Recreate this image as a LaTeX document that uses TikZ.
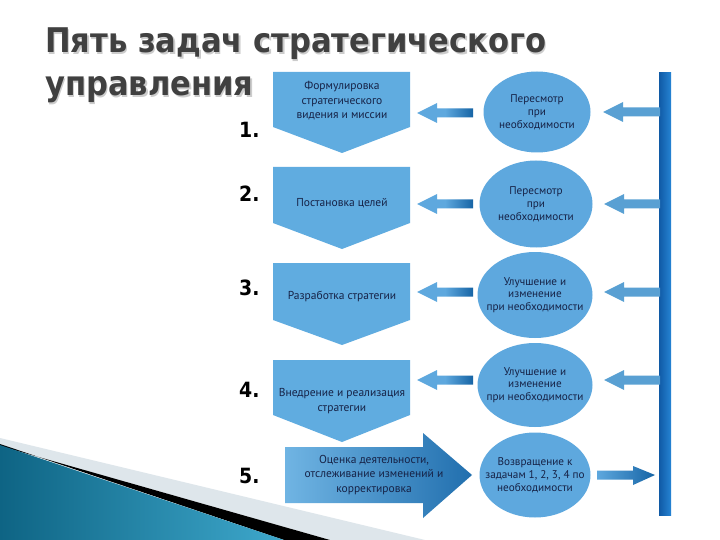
\documentclass[tikz,border=0pt]{standalone}
\usepackage{fontspec}
\setmainfont{PT Sans}
\newfontfamily\titlefont{DejaVu Sans Condensed}
\usetikzlibrary{shapes.geometric}
\definecolor{boxblue}{RGB}{96,172,224}
\definecolor{circblue}{RGB}{94,168,222}
\definecolor{darkarrow}{RGB}{22,100,165}
\definecolor{txt}{RGB}{22,34,70}
\definecolor{bardark}{RGB}{16,90,165}
\definecolor{barlight}{RGB}{38,132,212}
\definecolor{titlegray}{RGB}{64,64,64}
\definecolor{tealdark}{RGB}{14,100,132}
\definecolor{teallight}{RGB}{62,168,204}
\definecolor{stripgray}{RGB}{222,230,235}
\tikzset{
  boxtext/.style={font=\fontsize{11.5}{14.5}\selectfont, text=txt, align=center, inner sep=0pt},
  circtext/.style={inner sep=0pt, font=\fontsize{11.2}{12.8}\selectfont, text=txt, align=center},
  numtext/.style={font=\titlefont\fontsize{21}{21}\selectfont\bfseries, text=black, anchor=base west, inner sep=0pt},
  titletext/.style={font=\titlefont\fontsize{34}{34}\selectfont\bfseries, anchor=base west, inner sep=0pt}
}
\newcommand\leftblk[3]{% tip x, y, shaft end x
  \shade[left color=circblue, right color=darkarrow, middle color=circblue]
    (#1,#2) -- ++(20,-10) -- ++(0,5.5) -- (#3,#2-4.5) -- (#3,#2+4.5) -- (#1+20,#2+4.5) -- ++(0,5.5) -- cycle;}
\newcommand\barblk[3]{% tip x, y, shaft end x
  \fill[circblue!95!black]
    (#1,#2) -- ++(20,-10) -- ++(0,5.5) -- (#3,#2-4.5) -- (#3,#2+4.5) -- (#1+20,#2+4.5) -- ++(0,5.5) -- cycle;}
\begin{document}
\begin{tikzpicture}[x=1pt,y=-1pt]
\useasboundingbox (0,0) rectangle (720,540);
\fill[white] (0,0) rectangle (720,540);
% bottom-left decoration
\fill[stripgray] (0,438) -- (425,540) -- (330,540) -- (0,446) -- cycle;
\fill[black] (0,446) -- (330,540) -- (284,540) -- (0,444) -- cycle;
\shade[left color=tealdark, right color=teallight] (0,445) -- (284,540) -- (0,540) -- cycle;
% title
\node[titletext, text=black!20] at (46.5,54.5) {Пять задач стратегического};
\node[titletext, text=black!20] at (46.5,97.5) {управления};
\node[titletext, text=titlegray] (t1) at (45,53) {Пять задач стратегического};
\node[titletext, text=titlegray] (t2) at (45,96) {управления};
% numbers
\node[numtext] (n1) at (239,138) {1.};
\node[numtext] (n2) at (239,202) {2.};
\node[numtext] (n3) at (239,295) {3.};
\node[numtext] (n4) at (239,397) {4.};
\node[numtext] (n5) at (239,483) {5.};
% down pentagons
\fill[boxblue] (273,72) -- (410,72) -- (410,127) -- (342,153) -- (273,127) -- cycle;
\fill[boxblue] (273,167) -- (410,167) -- (410,223) -- (342,249) -- (273,223) -- cycle;
\fill[boxblue] (273,263) -- (410,263) -- (410,320) -- (342,345) -- (273,320) -- cycle;
\fill[boxblue] (273,360) -- (410,360) -- (410,415) -- (342,442) -- (273,415) -- cycle;
\shade[left color=boxblue!90!white, right color=darkarrow!85!boxblue]
  (285,447) -- (423,447) -- (423,433) -- (472,475) -- (423,518) -- (423,503) -- (285,503) -- cycle;
\node[boxtext] (b1) at (342,101) {Формулировка\\стратегического\\видения и миссии};
\node[boxtext] (b2) at (342,203) {Постановка целей};
\node[boxtext] (b3) at (342,296) {Разработка стратегии};
\node[boxtext] (b4) at (342,401) {Внедрение и реализация\\стратегии};
\node[boxtext] (b5) at (374,475) {Оценка деятельности,\\отслеживание изменений и\\корректировка};
% circles
\fill[circblue] (537,112) ellipse [x radius=53.5, y radius=40.5];
\fill[circblue] (536,204) ellipse [x radius=56.5, y radius=43.5];
\fill[circblue] (535,295) ellipse [x radius=57.5, y radius=43];
\fill[circblue] (535,385) ellipse [x radius=57.5, y radius=42];
\fill[circblue] (535,475) ellipse [x radius=55.5, y radius=42.5];
\node[circtext] (c1) at (537,112) {Пересмотр\\при\\необходимости};
\node[circtext] (c2) at (536,204) {Пересмотр\\при\\необходимости};
\node[circtext] (c3) at (535,295) {Улучшение и\\изменение\\при необходимости};
\node[circtext] (c4) at (535,385) {Улучшение и\\изменение\\при необходимости};
\node[circtext] (c5) at (535,475) {Возвращение к\\задачам 1, 2, 3, 4 по\\необходимости};
% vertical bar
\shade[left color=bardark, right color=barlight] (659,73) rectangle (671,515);
\coordinate (bar) at (665,73);
% arrows circle -> box
\leftblk{417}{113}{473}
\leftblk{417}{204}{473}
\leftblk{417}{292}{473}
\leftblk{417}{380}{473}
% arrows bar -> circle
\barblk{603}{112}{660}
\barblk{604}{204}{660}
\barblk{604}{292}{660}
\barblk{604}{380}{660}
% bottom arrow circle -> bar
\shade[left color=circblue, right color=darkarrow]
  (597,470.5) -- (633,470.5) -- (633,466) -- (655,475) -- (633,485) -- (633,479.5) -- (597,479.5) -- cycle;
\end{tikzpicture}
\end{document}
